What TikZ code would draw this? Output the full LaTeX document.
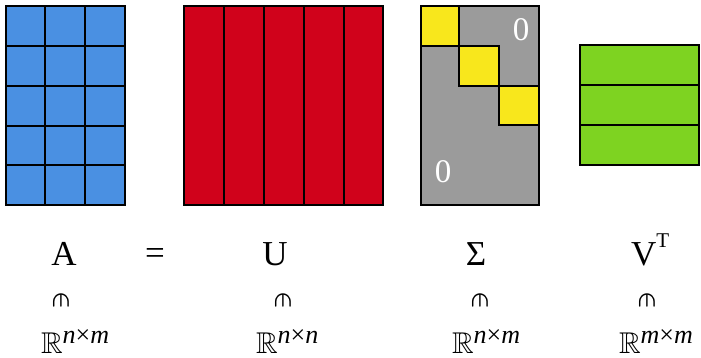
\documentclass[tikz,border=0pt]{standalone}
\usepackage{amsmath}
\usepackage{amssymb}
\usepackage{fontspec}
\usepackage{graphicx}
\setmainfont{Liberation Serif}
\definecolor{cblue}{HTML}{4A90E2}
\definecolor{cred}{HTML}{D0021B}
\definecolor{cgray}{HTML}{9B9B9B}
\definecolor{cyellow}{HTML}{F8E71C}
\definecolor{cgreen}{HTML}{7ED321}
\newcommand{\bigtxt}{\fontsize{35}{38}\selectfont}
\newcommand{\zerotxt}{\fontsize{33}{36}\selectfont}
\newcommand{\setdim}[2]{{\fontsize{10}{12}\selectfont\scalebox{3.0}{$\mathbb{R}$}}\raisebox{10pt}{\fontsize{26}{28}\selectfont\itshape #1\upshape ×\itshape #2}}
\newcommand{\elemof}{{\fontsize{10}{12}\selectfont\scalebox{2.35}{\rotatebox{-90}{$\boldsymbol{\in}$}}}}
\tikzset{
  cellline/.style={line width=1.6pt, draw=black},
  lbl/.style={inner sep=0pt, outer sep=0pt, font=\bigtxt},
  zerolbl/.style={inner sep=0pt, text=white, font=\zerotxt},
}
\begin{document}
\begin{tikzpicture}[x=1pt,y=-1pt]
\useasboundingbox (0,0) rectangle (701,358);
% A (blue)
\fill[cblue] (6,6) rectangle (125,205);
\foreach \x in {45,85} \draw[cellline] (\x,6) -- (\x,205);
\foreach \y in {46,86,126,165} \draw[cellline] (6,\y) -- (125,\y);
\draw[cellline] (6,6) rectangle (125,205);
% U (red)
\fill[cred] (184,6) rectangle (383,205);
\foreach \x in {224,264,304,344} \draw[cellline] (\x,6) -- (\x,205);
\draw[cellline] (184,6) rectangle (383,205);
% Sigma (gray + yellow diagonal)
\fill[cgray] (421,6) rectangle (539,205);
\draw[cellline] (421,6) rectangle (539,205);
\filldraw[cyellow, cellline] (421,6) rectangle (459,46);
\filldraw[cyellow, cellline] (459,46) rectangle (499,86);
\filldraw[cyellow, cellline] (499,86) rectangle (539,125);
\node[zerolbl] (z1) at (521,30) {0};
\node[zerolbl] (z2) at (443,172) {0};
% V^T (green)
\fill[cgreen] (580,45) rectangle (699,165);
\foreach \y in {85,125} \draw[cellline] (580,\y) -- (699,\y);
\draw[cellline] (580,45) rectangle (699,165);
% labels
\node[lbl, anchor=base] (lA) at (64,265) {A};
\node[lbl, anchor=base] (eq) at (155,264) {=};
\node[lbl, anchor=base] (lU) at (275,265) {U};
\node[lbl, anchor=base] (lS) at (476,265) {Σ};
\node[lbl, anchor=base west] (lV) at (631,265) {V\raisebox{18pt}{\fontsize{21}{22}\selectfont T}};
% element-of symbols
\node[lbl, anchor=center] (eA) at (61,301) {\elemof};
\node[lbl, anchor=center] (eU) at (283,301) {\elemof};
\node[lbl, anchor=center] (eS) at (480,301) {\elemof};
\node[lbl, anchor=center] (eV) at (647,301) {\elemof};
% sets
\node[lbl, anchor=base west] (rA) at (41,353) {\setdim{n}{m}};
\node[lbl, anchor=base west] (rU) at (256,353) {\setdim{n}{n}};
\node[lbl, anchor=base west] (rS) at (452,353) {\setdim{n}{m}};
\node[lbl, anchor=base west] (rV) at (619,353) {\setdim{m}{m}};
\end{tikzpicture}
\end{document}
